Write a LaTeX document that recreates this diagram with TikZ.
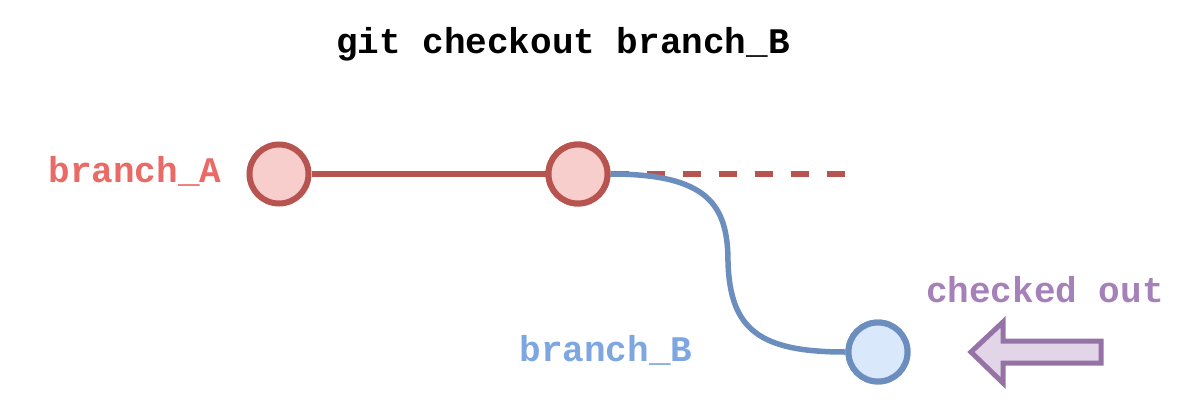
\documentclass[tikz,border=0pt]{standalone}
\usepackage{fontspec}
\setmonofont{Liberation Mono}
\usepackage{tikz}
\usetikzlibrary{calc, arrows.meta, positioning}
\definecolor{RedFill}{HTML}{F8CECC}
\definecolor{RedLine}{HTML}{B85450}
\definecolor{RedText}{HTML}{EA6B66}
\definecolor{BlueFill}{HTML}{DAE8FC}
\definecolor{BlueLine}{HTML}{6C8EBF}
\definecolor{BlueText}{HTML}{7EA6E0}
\definecolor{PurpleFill}{HTML}{E1D5E7}
\definecolor{PurpleLine}{HTML}{9673A6}
\definecolor{PurpleText}{HTML}{A680B8}
\tikzstyle{commitA} = [circle, minimum size=59pt, inner sep=0pt, line width=6pt, draw=RedLine, fill=RedFill]
\tikzstyle{commitB} = [circle, minimum size=59pt, inner sep=0pt, line width=6pt, draw=BlueLine, fill=BlueFill]
\tikzstyle{label} = [anchor=base, inner sep=0pt, font=\fontsize{36}{40}\selectfont\ttfamily\bfseries]

\begin{document}
\begin{tikzpicture}[x=1pt, y=-1pt, line width=6pt]
	\useasboundingbox (0,0) rectangle (1187,410);
	% TITLE
	\node (title) [label, text=black] at (563,53) {git checkout branch\_B};
	% COMMITS
	\node (A1) [commitA] at (279,174) {};
	\node (A2) [commitA] at (578,174) {};
	\node (B1) [commitB] at (878,352) {};
	\coordinate (Aend) at (845,174);

	\node (nameA) [label, text=RedText] at (135,182) {branch\_A};
	\node (nameB) [label, text=BlueText] at (606,361) {branch\_B};
	\node (head) [label, text=PurpleText] at (1045,302) {checked out};

	\draw [RedLine] (A1) -- (A2);
	\draw [RedLine, dash pattern=on 18pt off 18pt] (A2.east) -- (Aend);
	\draw [BlueLine, line width=5.5pt] (A2.east) .. controls (708,174) and (728,205) .. (728,262)
		.. controls (730,330) and (760,352) .. (B1.west);
	\node [commitA] at (A2) {};
	\node [commitB] at (B1) {};

	% checked out arrow
	\draw [PurpleLine, fill=PurpleFill, line width=5pt, line join=miter]
		(971,352) -- (1003,322) -- (1003,341) -- (1101,341) -- (1101,363)
		-- (1003,363) -- (1003,383) -- cycle;
\end{tikzpicture}
\end{document}
